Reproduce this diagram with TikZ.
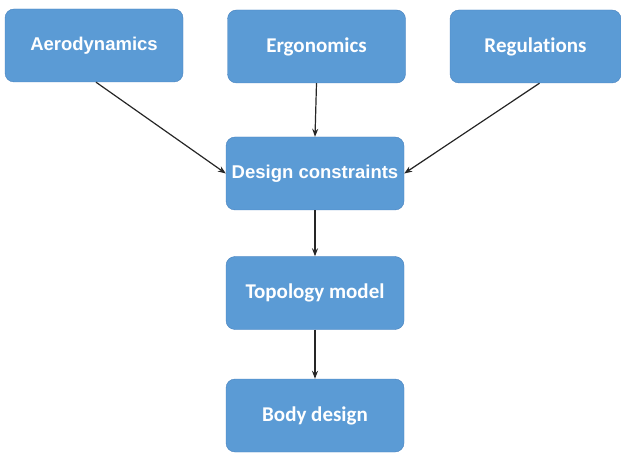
\documentclass[tikz,border=0pt]{standalone}
\usepackage{fontspec}
\setmainfont{Liberation Sans}
\newfontfamily\calfont[Ligatures=NoCommon]{Carlito}
\usepackage{tikz}
\usetikzlibrary{arrows.meta}
\definecolor{boxblue}{RGB}{91,155,213}
\definecolor{boxedge}{RGB}{72,130,190}

\begin{document}
\begin{tikzpicture}[x=1pt,y=-1pt,
	box/.style={draw=boxedge, fill=boxblue, rounded corners=9pt, minimum width=178pt, minimum height=73pt, text=white, font=\bfseries\fontsize{18.5}{20}\selectfont},
	calbox/.style={box, font=\calfont\bfseries\fontsize{21}{23}\selectfont},
	arr/.style={-{Stealth[length=8pt,width=6pt]}, line width=1.2pt, black!85}]
					\useasboundingbox (0,0) rectangle (621,454);
					
					\node[box] (aero) at (94,45.5) {Aerodynamics};
					\node[calbox] (ergo) at (316.5,46.5) {Ergonomics};
					\node[calbox, minimum width=171pt] (regu) at (535.5,46.5) {Regulations};
					\node[box] (cons) at (315,173.5) {Design constraints};
					\node[calbox] (topo) at (315,293) {Topology model};
					\node[calbox] (body) at (315,415.5) {Body design};
					
					\draw[arr] ([xshift=2pt]aero.south) -- (cons.west);
					\draw[arr] (ergo.south) -- (cons.north);
					\draw[arr] ([xshift=4pt]regu.south) -- (cons.east);
					\draw[arr] (cons) -- (topo);
					\draw[arr] (topo) -- (body);
				\end{tikzpicture}
\end{document}
